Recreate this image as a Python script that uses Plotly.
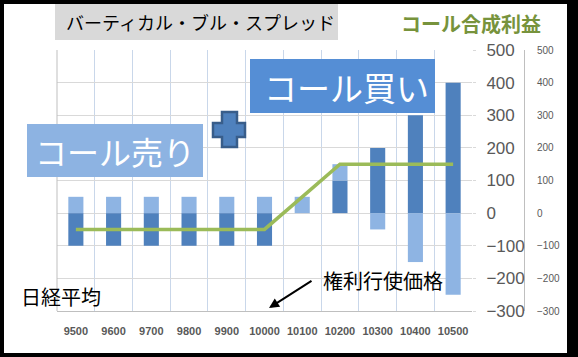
import plotly.graph_objects as go

W, H = 578, 357

# ---- data ----
categories = ["9500", "9600", "9700", "9800", "9900", "10000",
              "10100", "10200", "10300", "10400", "10500"]
call_buy = [-100, -100, -100, -100, -100, -100, 0, 100, 200, 300, 400]
call_sell = [50, 50, 50, 50, 50, 50, 50, 50, -50, -150, -250]
combined = [-50, -50, -50, -50, -50, -50, 50, 150, 150, 150, 150]
y_ticks = [500, 400, 300, 200, 100, 0, -100, -200, -300]

title_text = "バーティカル・ブル・スプレッド"
combined_label = "コール合成利益"
sell_label = "コール売り"
buy_label = "コール買い"
x_title = "日経平均"
strike_label = "権利行使価格"

JP = "Noto Sans CJK JP"
NUM = "Liberation Sans"


def px(x):
    return x / W


def py(y):
    return 1 - y / H


PL, PR, PT, PB = 57, 472, 50, 311

fig = go.Figure()
fig.add_trace(go.Bar(x=categories, y=call_buy, marker_color="#4f81bd",
                     marker_line_width=0, name=buy_label))
fig.add_trace(go.Bar(x=categories, y=call_sell, marker_color="#8eb4e3",
                     marker_line_width=0, name=sell_label))
fig.add_trace(go.Scatter(x=categories, y=combined, mode="lines",
                         line=dict(color="#9bbb59", width=3.5), name=combined_label))
fig.add_trace(go.Scatter(x=categories, y=combined, mode="lines", yaxis="y2",
                         line=dict(width=0), opacity=0, hoverinfo="skip",
                         showlegend=False))

shapes = [
    # white card inside the black frame
    dict(type="rect", xref="paper", yref="paper", x0=px(4), x1=px(567),
         y0=py(353), y1=py(4), fillcolor="white", line_width=0, layer="below"),
    # title box
    dict(type="rect", xref="paper", yref="paper", x0=px(55), x1=px(338),
         y0=py(40), y1=py(4), fillcolor="#d9d9d9", line_width=0, layer="below"),
    # left edge of plot area
    dict(type="line", xref="paper", yref="paper", x0=px(PL), x1=px(PL),
         y0=py(PB), y1=py(PT), line=dict(color="#bfbfbf", width=1)),
    # sell box
    dict(type="rect", xref="paper", yref="paper", x0=px(27), x1=px(203),
         y0=py(177), y1=py(124), fillcolor="#8db3e2", line_width=0),
    # buy box
    dict(type="rect", xref="paper", yref="paper", x0=px(250), x1=px(435),
         y0=py(113), y1=py(59), fillcolor="#558ed5", line_width=0),
]

# plus sign
pts = [(222, 112), (237, 112), (237, 123), (245, 123), (245, 137), (237, 137),
       (237, 147), (222, 147), (222, 137), (213, 137), (213, 123), (222, 123)]
path = "M " + " L ".join(f"{px(a):.5f},{py(b):.5f}" for a, b in pts) + " Z"
shapes.append(dict(type="path", xref="paper", yref="paper", path=path,
                   fillcolor="#4f81bd", line=dict(color="#385d8a", width=2.5)))

annotations = [
    dict(text=title_text, xref="paper", yref="paper", x=px(64), y=py(22),
         xanchor="left", yanchor="middle", showarrow=False,
         font=dict(family=JP, size=18, color="black")),
    dict(text=f"<b>{combined_label}</b>", xref="paper", yref="paper", x=px(399), y=py(24),
         xanchor="left", yanchor="middle", showarrow=False,
         font=dict(family=JP, size=20, color="#77933c")),
    dict(text=sell_label, xref="paper", yref="paper", x=px(115), y=py(151),
         xanchor="center", yanchor="middle", showarrow=False,
         font=dict(family=JP, size=32, color="white")),
    dict(text=buy_label, xref="paper", yref="paper", x=px(346), y=py(87),
         xanchor="center", yanchor="middle", showarrow=False,
         font=dict(family=JP, size=33, color="white")),
    dict(text=x_title, xref="paper", yref="paper", x=px(19), y=py(296),
         xanchor="left", yanchor="middle", showarrow=False,
         font=dict(family=JP, size=20, color="black")),
    dict(text=strike_label, xref="paper", yref="paper", x=px(321), y=py(280),
         xanchor="left", yanchor="middle", showarrow=False,
         font=dict(family=JP, size=20, color="black")),
    dict(text="", xref="paper", yref="paper", x=px(269), y=py(308),
         axref="pixel", ayref="pixel", ax=44, ay=-28, showarrow=True,
         arrowhead=2, arrowsize=1, arrowwidth=2, arrowcolor="black"),
]

fig.update_layout(
    width=W, height=H,
    margin=dict(l=0, r=0, t=0, b=0),
    paper_bgcolor="black",
    plot_bgcolor="white",
    barmode="relative",
    bargap=0.6,
    showlegend=False,
    shapes=shapes,
    annotations=annotations,
    xaxis=dict(
        type="category", domain=[px(PL), px(PR)],
        tickson="boundaries", showgrid=True, gridcolor="#c9d7ea", gridwidth=1,
        showline=True, linecolor="#bfbfbf", linewidth=1, ticks="",
        tickangle=0,
        tickfont=dict(family=NUM, size=11, color="#595959", weight="bold"),
        ticklabelstandoff=10, automargin=False, fixedrange=True,
    ),
    yaxis=dict(
        domain=[py(PB), py(PT)], range=[-300, 500], tickvals=y_ticks,
        side="right", showgrid=True, gridcolor="#d9d9d9", gridwidth=1,
        zeroline=False, showline=False,
        ticks="outside", ticklen=3, tickcolor="#d9d9d9",
        tickfont=dict(family=NUM, size=17, color="#595959"),
        ticklabelstandoff=7, automargin=False, fixedrange=True,
    ),
    yaxis2=dict(
        overlaying="y", anchor="free", position=px(524), side="right",
        range=[-300, 500], tickvals=y_ticks, showgrid=False, zeroline=False,
        showline=True, linecolor="#bfbfbf", linewidth=1, ticks="",
        tickfont=dict(family=NUM, size=10, color="#595959"),
        ticklabelstandoff=10, automargin=False, fixedrange=True,
    ),
)

fig.write_html("out.html", config={"displayModeBar": False},
               post_script="document.body.style.margin='0';document.body.style.padding='0';")
